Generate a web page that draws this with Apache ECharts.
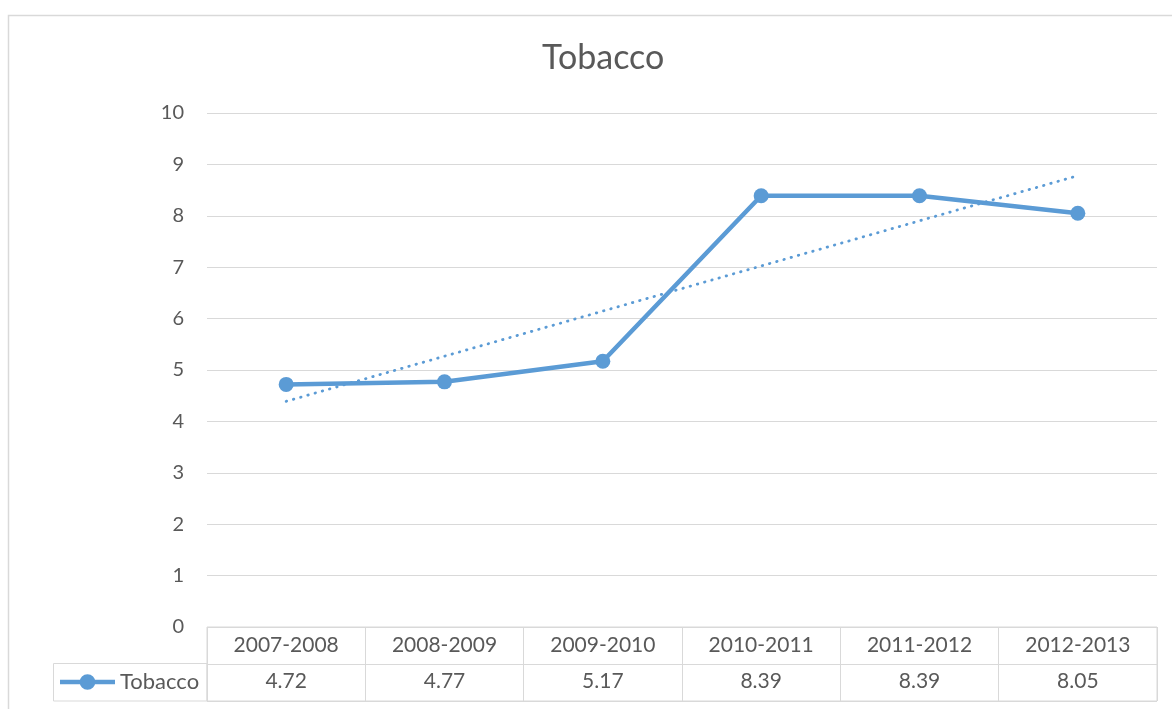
<!DOCTYPE html>
<html>
<head>
<meta charset="utf-8">
<script src="https://cdn.jsdelivr.net/npm/echarts@6/dist/echarts.min.js"></script>
<style>
  html, body { margin: 0; padding: 0; background: #fff; }
  #chart { width: 1172px; height: 709px; }
</style>
</head>
<body>
<div id="chart"></div>
<script>
const categories = ['2007-2008', '2008-2009', '2009-2010', '2010-2011', '2011-2012', '2012-2013'];
const tobacco = [4.72, 4.77, 5.17, 8.39, 8.39, 8.05];
// linear trendline ends (first and last category)
const trend = [4.39, null, null, null, null, 8.78];
const yTicks = [0, 10, 1]; // min, max, interval

const blue = '#5b9bd5';
const grey = '#d9d9d9';
const txt = '#595959';
const font = 'Lato, "Liberation Sans", sans-serif';

// legend key: thick line with a dot in the middle
const keyIcon = 'path://M0,5.75H56V10.25H0Z M20,8a8,8 0 1,1 16,0a8,8 0 1,1 -16,0Z';

const chart = echarts.init(document.getElementById('chart'));
chart.setOption({
  animation: false,
  textStyle: { fontFamily: font, color: txt },
  title: {
    text: 'Tobacco',
    left: 537,
    top: 36,
    textStyle: { fontFamily: font, fontSize: 34, fontWeight: 'normal', color: txt }
  },
  legend: {
    left: 55,
    top: 666,
    itemWidth: 55,
    itemHeight: 16,
    itemGap: 0,
    data: [{ name: 'Tobacco', icon: keyIcon }],
    textStyle: { fontFamily: font, fontSize: 22, color: txt }
  },
  grid: [
    { left: 207, right: 15, top: 113, bottom: 82 },
    { left: 207, right: 15, top: 627, bottom: 8, show: true, borderColor: grey, borderWidth: 1 }
  ],
  xAxis: [
    {
      gridIndex: 0, type: 'category', data: categories, boundaryGap: true,
      axisLine: { show: false }, axisTick: { show: false }, axisLabel: { show: false }
    },
    {
      gridIndex: 1, type: 'category', data: categories, position: 'top',
      axisLine: { show: false }, axisTick: { show: false },
      axisLabel: { inside: true, margin: 8, fontSize: 21, color: txt, fontFamily: font },
      splitLine: { show: true, lineStyle: { color: grey, width: 1 } }
    },
    {
      gridIndex: 1, type: 'category', data: tobacco.map(v => v.toFixed(2)), position: 'bottom',
      axisLine: { show: false }, axisTick: { show: false },
      axisLabel: { inside: true, margin: 9, fontSize: 21, color: txt, fontFamily: font }
    }
  ],
  yAxis: [
    {
      gridIndex: 0, type: 'value', min: yTicks[0], max: yTicks[1], interval: yTicks[2],
      axisLine: { show: false }, axisTick: { show: false },
      axisLabel: { margin: 23, fontSize: 20, color: txt, fontFamily: font },
      splitLine: { lineStyle: { color: grey, width: 1 } }
    },
    {
      gridIndex: 1, type: 'value', min: 0, max: 2, interval: 1,
      axisLine: { show: false }, axisTick: { show: false }, axisLabel: { show: false },
      splitLine: { lineStyle: { color: grey, width: 1 } }
    }
  ],
  graphic: [
    // outer chart frame (left and top edges)
    { type: 'polyline', shape: { points: [[8.5, 709], [8.5, 15.5], [1172, 15.5]] },
      style: { fill: null, stroke: grey, lineWidth: 1.5 }, silent: true },
    // legend key cell of the data table
    { type: 'rect', shape: { x: 53.5, y: 663.5, width: 153.5, height: 37.5 },
      style: { fill: null, stroke: grey, lineWidth: 1 }, silent: true }
  ],
  series: [
    {
      name: 'Tobacco', type: 'line', xAxisIndex: 0, yAxisIndex: 0,
      data: tobacco, symbol: 'circle', symbolSize: 15,
      itemStyle: { color: blue },
      lineStyle: { color: blue, width: 4.5 }
    },
    {
      name: 'Trend', type: 'line', xAxisIndex: 0, yAxisIndex: 0,
      data: trend, connectNulls: true, symbol: 'none',
      lineStyle: { color: blue, width: 2.8, type: [0.5, 7], cap: 'round' },
      z: 1
    }
  ]
});
</script>
</body>
</html>
